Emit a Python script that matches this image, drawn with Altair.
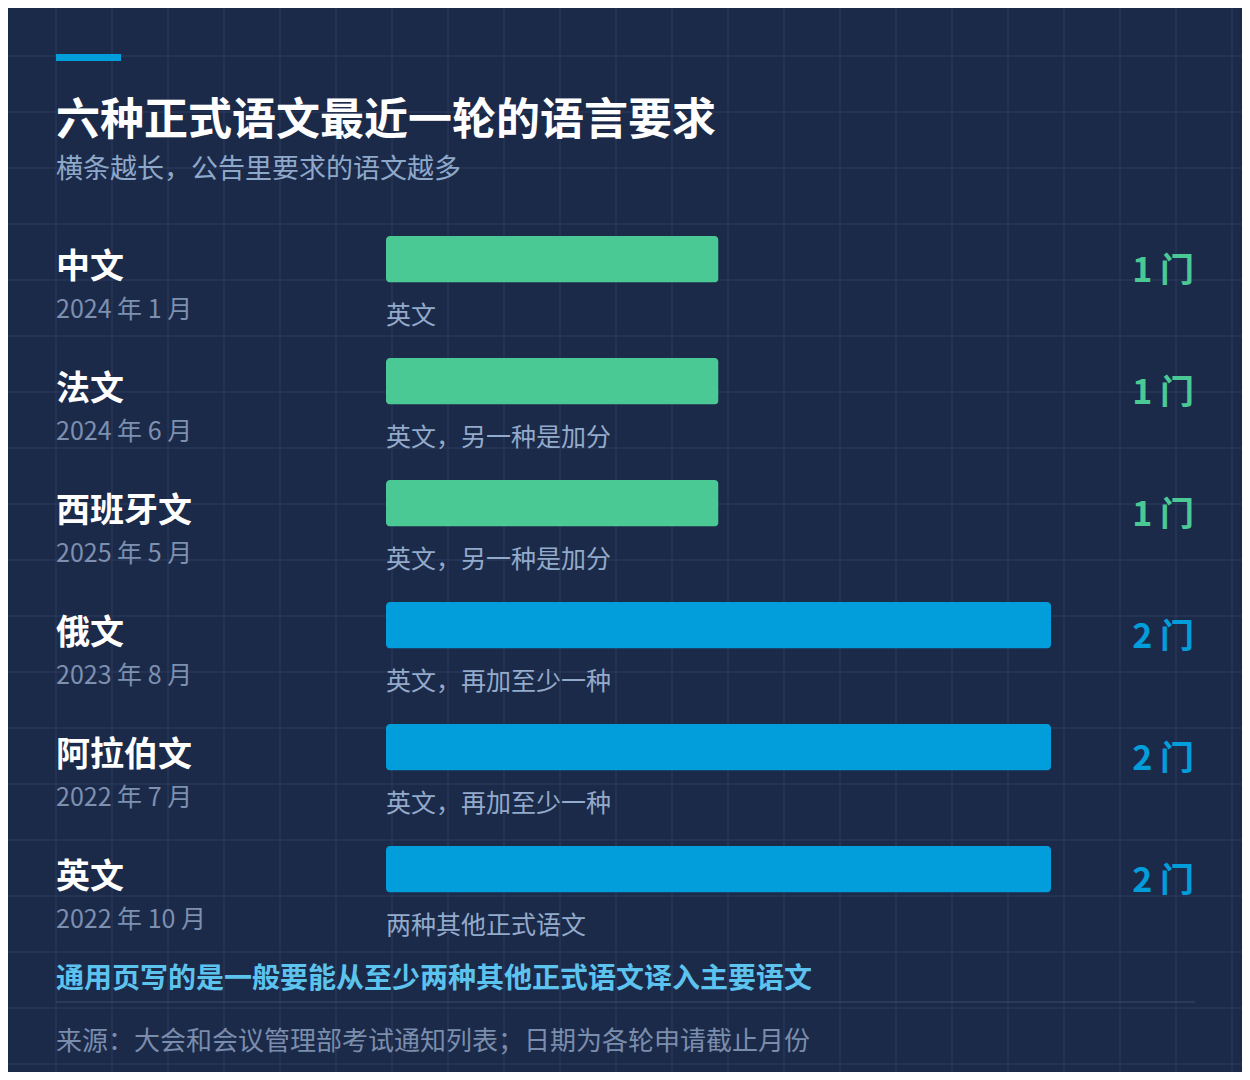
import altair as alt
import pandas as pd

# ---- data ----
languages = ["中文", "法文", "西班牙文", "俄文", "阿拉伯文", "英文"]
round_dates = ["2024 年 1 月", "2024 年 6 月", "2025 年 5 月", "2023 年 8 月", "2022 年 7 月", "2022 年 10 月"]
requirements = ["英文", "英文，另一种是加分", "英文，另一种是加分", "英文，再加至少一种", "英文，再加至少一种", "两种其他正式语文"]
languages_required = [1, 1, 1, 2, 2, 2]

title_text = "六种正式语文最近一轮的语言要求"
subtitle_text = "横条越长，公告里要求的语文越多"
note_text = "通用页写的是一般要能从至少两种其他正式语文译入主要语文"
source_text = "来源：大会和会议管理部考试通知列表；日期为各轮申请截止月份"

# ---- styling ----
FONT = "Noto Sans CJK SC"
BG = "#1c2a4a"
GRID = "#2c3c5f"
GREEN = "#4bc995"
BLUE = "#019edb"
W, H = 1234, 1064

df = pd.DataFrame({
    "lang": languages,
    "date": round_dates,
    "req": requirements,
    "count": languages_required,
})
df["label"] = df["count"].astype(str) + " 门"

y_enc = alt.Y("lang:N", sort=languages, axis=None,
              scale=alt.Scale(type="band", domain=languages, range=[228, 884.5],
                              paddingInner=0.6189, paddingOuter=0))
x_scale = alt.Scale(domain=[0, 2], range=[378, 1043], nice=False, zero=True)
color_enc = alt.Color("count:N", legend=None,
                      scale=alt.Scale(domain=[1, 2], range=[GREEN, BLUE]))

base = alt.Chart(df)

# background grid
grid_v = alt.Chart(pd.DataFrame({"k": list(range(0, 24))})).mark_rule(
    color=GRID, strokeWidth=1).encode(
    x=alt.X("k:Q", axis=None, scale=alt.Scale(domain=[0, 1], range=[-8, 48], nice=False, zero=False)),
    y=alt.value(0), y2=alt.value(H))
grid_h = alt.Chart(pd.DataFrame({"m": list(range(0, 21))})).mark_rule(
    color=GRID, strokeWidth=1).encode(
    y=alt.Y("m:Q", axis=None, scale=alt.Scale(domain=[0, 1], range=[-8, 48], nice=False, zero=False)),
    x=alt.value(0), x2=alt.value(W))

accent = alt.Chart(pd.DataFrame({"a": [1]})).mark_rect(color=BLUE).encode(
    x=alt.value(48), x2=alt.value(113), y=alt.value(46), y2=alt.value(53))

def txt(t, x, y, size, color, weight="normal", align="left"):
    return alt.Chart(pd.DataFrame({"t": [t]})).mark_text(
        font=FONT, fontSize=size, color=color, fontWeight=weight,
        align=align, baseline="middle").encode(
        x=alt.value(x), y=alt.value(y), text="t:N")

title = txt(title_text, 48, 114, 44, "#ffffff", "bold")
subtitle = txt(subtitle_text, 48, 162, 27, "#8ea8c9")
note = txt(note_text, 48, 972, 28, "#5cc3ee", "bold")
source = txt(source_text, 48, 1034, 26, "#7b8dac")

divider = alt.Chart(pd.DataFrame({"a": [1]})).mark_rule(color="#3a4a6c", strokeWidth=1).encode(
    x=alt.value(48), x2=alt.value(1187), y=alt.value(994))

bars = base.mark_bar(cornerRadius=4).encode(
    x=alt.X("count:Q", scale=x_scale, axis=None),
    y=y_enc, color=color_enc)

names = base.mark_text(font=FONT, fontSize=34, fontWeight="bold", color="#ffffff",
                       align="left", baseline="middle", dy=9).encode(
    x=alt.value(48), y=y_enc, text="lang:N")

dates = base.mark_text(font=FONT, fontSize=25, color="#7d90b0",
                       align="left", baseline="middle", dy=51).encode(
    x=alt.value(48), y=y_enc, text="date:N")

reqs = base.mark_text(font=FONT, fontSize=25, color="#93aacb",
                      align="left", baseline="middle", dy=57).encode(
    x=alt.value(378), y=y_enc, text="req:N")

counts = base.mark_text(font=FONT, fontSize=34, fontWeight="bold",
                        align="right", baseline="middle", dy=13).encode(
    x=alt.value(1186), y=y_enc, text="label:N", color=color_enc)

chart = alt.layer(
    grid_v, grid_h, accent, title, subtitle, bars, names, dates, reqs, counts,
    divider, note, source
).resolve_scale(x="independent", y="independent", color="independent").properties(
    width=W, height=H, autosize=alt.AutoSizeParams(type="none"), padding=0,
    background=BG
).configure_view(stroke=None)

chart.save("out.html", embed_options={"renderer": "svg", "actions": False})
